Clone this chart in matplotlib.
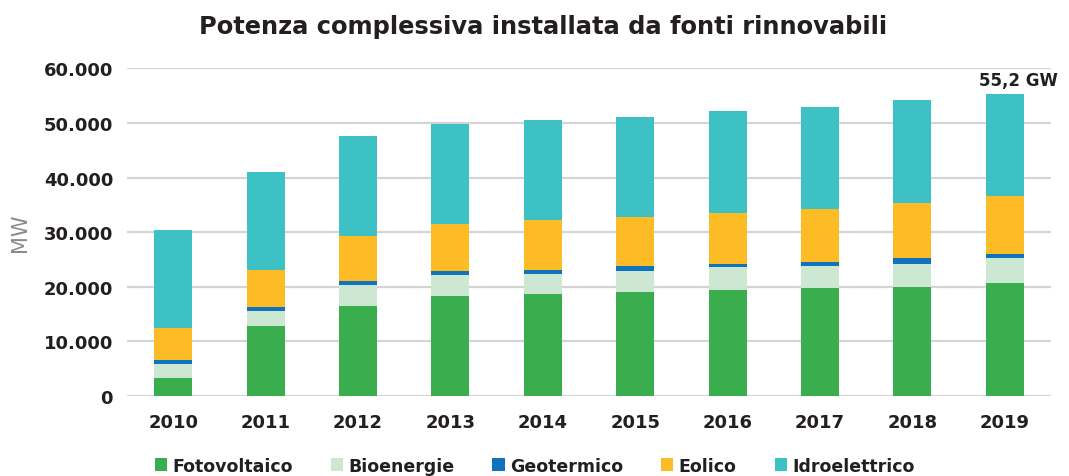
import numpy as np
import matplotlib
matplotlib.use("Agg")
import matplotlib.pyplot as plt
from matplotlib.ticker import FuncFormatter

# installed capacity by source, MW
years = ['2010', '2011', '2012', '2013', '2014', '2015', '2016', '2017', '2018', '2019']
fotovoltaico = [3370, 12830, 16570, 18350, 18610, 19010, 19490, 19800, 20040, 20770]
bioenergie = [2440, 2690, 3840, 3800, 3780, 3840, 4090, 4080, 4200, 4460]
geotermico = [730, 730, 660, 680, 670, 1030, 610, 730, 990, 780]
eolico = [5920, 6910, 8250, 8620, 9120, 8960, 9380, 9630, 10050, 10660]
idroelettrico = [17960, 17890, 18320, 18400, 18350, 18280, 18640, 18590, 18940, 18590]

series = [
    ('Fotovoltaico', fotovoltaico, '#3aae4f'),
    ('Bioenergie', bioenergie, '#cce8d2'),
    ('Geotermico', geotermico, '#1073bd'),
    ('Eolico', eolico, '#fdbc26'),
    ('Idroelettrico', idroelettrico, '#3ec1c5'),
]
total_label = '55,2 GW'

dark = '#231f20'
plt.rcParams['font.family'] = ['DejaVu Sans']

fig = plt.figure(figsize=(10.69, 4.77), dpi=100)
ax = fig.add_axes([0.1188, 0.1677, 0.8644, 0.687])

x = np.arange(len(years))
bottom = np.zeros(len(years))
for name, vals, color in series:
    ax.bar(x, vals, width=0.41, bottom=bottom, color=color, label=name, zorder=3)
    bottom += np.array(vals)

ax.text(x[-1] + 0.15, bottom[-1] + 900, total_label, ha='center', va='bottom',
        fontsize=12, fontweight='bold', color=dark)

ax.set_xlim(-0.5, len(years) - 0.5)
ax.set_ylim(0, 60000)
ax.set_yticks(range(0, 60001, 10000))
ax.yaxis.set_major_formatter(FuncFormatter(lambda v, p: f"{int(v):,}".replace(',', '.')))
ax.set_xticks(x)
ax.set_xticklabels(years)
ax.grid(axis='y', color='#d4d4d4', linewidth=1.6, zorder=0)
for s in ax.spines.values():
    s.set_visible(False)
ax.tick_params(length=0, labelsize=13, labelcolor=dark, pad=10)
ax.tick_params(axis='x', pad=12)
for lab in ax.get_xticklabels() + ax.get_yticklabels():
    lab.set_fontweight('bold')

ax.set_ylabel('MW', fontsize=15, color='#8a8a8a', labelpad=10)

fig.text(0.508, 0.943, 'Potenza complessiva installata da fonti rinnovabili',
         ha='center', va='center', fontsize=17.4, fontweight='semibold', color=dark)

fig.legend(loc='center', bbox_to_anchor=(0.500, 0.022), ncol=5, frameon=False,
           handlelength=0.7, handleheight=0.7, handletextpad=0.3, columnspacing=2.2,
           prop={'size': 12.5, 'weight': 'semibold'}, labelcolor=dark)

fig.savefig('out.png', dpi=100)
